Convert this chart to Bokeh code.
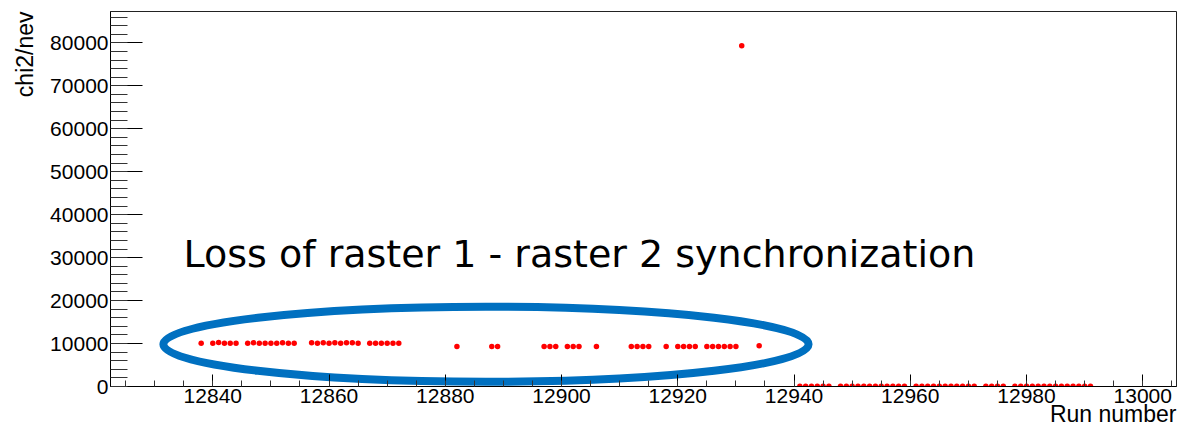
import math
from bokeh.plotting import figure
from bokeh.models import Range1d, SingleIntervalTicker, NumeralTickFormatter, Label, ColumnDataSource, Title
from bokeh.embed import file_html
from bokeh.resources import INLINE

# ---- data ----
runs = [12838, 12840, 12841, 12842, 12843, 12844, 12846, 12847, 12848, 12849, 12850,
        12851, 12852, 12853, 12854, 12857, 12858, 12859, 12860, 12861, 12862, 12863,
        12864, 12865, 12867, 12868, 12869, 12870, 12871, 12872,
        12882, 12888, 12889, 12897, 12898, 12899, 12901, 12902, 12903, 12906,
        12912, 12913, 12914, 12915, 12918, 12920, 12921, 12922, 12923,
        12925, 12926, 12927, 12928, 12929, 12930, 12931, 12934]
chi2 = [10050, 10050, 10250, 10050, 10050, 10050, 10050, 10200, 10050, 10050, 10050,
        10050, 10200, 10050, 10050, 10200, 10050, 10200, 10050, 10200, 10050, 10200,
        10200, 10050, 10050, 10050, 10050, 10050, 10050, 10050,
        9300, 9300, 9300, 9300, 9300, 9300, 9300, 9300, 9300, 9300,
        9300, 9300, 9300, 9300, 9300, 9300, 9300, 9300, 9300,
        9300, 9300, 9300, 9300, 9300, 9300, 79300, 9500]

runs_low = [12941, 12942, 12943, 12944, 12945, 12946,
            12948, 12949, 12950, 12951, 12952, 12953, 12954, 12955, 12956, 12957, 12958, 12959,
            12961, 12962, 12963, 12964, 12965, 12966, 12967, 12968, 12969, 12970, 12971,
            12973, 12974, 12975, 12976,
            12978, 12979, 12980, 12981, 12982, 12983, 12984, 12985, 12986, 12987, 12988,
            12989, 12990, 12991]
chi2_low = [60] * len(runs_low)

x_limits = [12822.4, 13005.8]
y_limits = [0, 87300]
x_title = "Run number"
y_title = "chi2/nev"
note_text = "Loss of raster 1 - raster 2 synchronization"
# highlighted region (centre run, centre chi2, width in runs, height in chi2)
ellipse_region = dict(x=12887.0, y=9830, w=111.0, h=17470)

W, H = 1180, 425
p = figure(width=W, height=H, output_backend="svg", toolbar_location=None,
           x_range=Range1d(*x_limits), y_range=Range1d(*y_limits),
           min_border_left=110, min_border_right=4, min_border_top=11, min_border_bottom=39)
p.xgrid.visible = False
p.ygrid.visible = False
p.outline_line_color = "#222222"
p.outline_line_width = 1
p.background_fill_color = "white"
p.border_fill_color = "white"

FONT = "Liberation Sans"
for ax in (p.xaxis[0], p.yaxis[0]):
    ax.axis_line_color = "black"
    ax.major_tick_line_color = "black"
    ax.minor_tick_line_color = "#333333"
    ax.major_tick_out = 0
    ax.minor_tick_out = 0
    ax.major_label_text_font = FONT
    ax.major_label_text_font_size = "21px"
    ax.major_label_text_color = "black"

xa = p.xaxis[0]
ya = p.yaxis[0]
xa.ticker = SingleIntervalTicker(interval=20, num_minor_ticks=4)
xa.major_tick_in = 12
xa.minor_tick_in = 6
xa.formatter = NumeralTickFormatter(format="0")
xa.major_label_standoff = 2

ya.ticker = SingleIntervalTicker(interval=10000, num_minor_ticks=5)
ya.major_tick_in = 32
ya.minor_tick_in = 17
ya.formatter = NumeralTickFormatter(format="0")
ya.major_label_standoff = 2

p.add_layout(Title(text=x_title, align="right", text_font=FONT, text_font_size="23px",
                   text_font_style="normal", text_color="black", standoff=-14), "below")
p.add_layout(Title(text=y_title, align="right", text_font=FONT, text_font_size="23px",
                   text_font_style="normal", text_color="black", standoff=19), "left")

# annotation ellipse
p.ellipse(x=[ellipse_region["x"]], y=[ellipse_region["y"]],
          width=[ellipse_region["w"]], height=[ellipse_region["h"]],
          fill_color=None, line_color="#0070C0", line_width=8)

src = ColumnDataSource(dict(run=runs + runs_low, chi2=chi2 + chi2_low))
p.scatter("run", "chi2", source=src, size=5.5, color="#ff0000", line_color=None)

p.add_layout(Label(x=73, y=133, x_units="screen", y_units="screen", text=note_text,
                   text_align="left", text_baseline="middle",
                   text_font="DejaVu Sans", text_font_size="38px", text_color="black"))

open("out.html", "w").write(file_html(p, INLINE))
